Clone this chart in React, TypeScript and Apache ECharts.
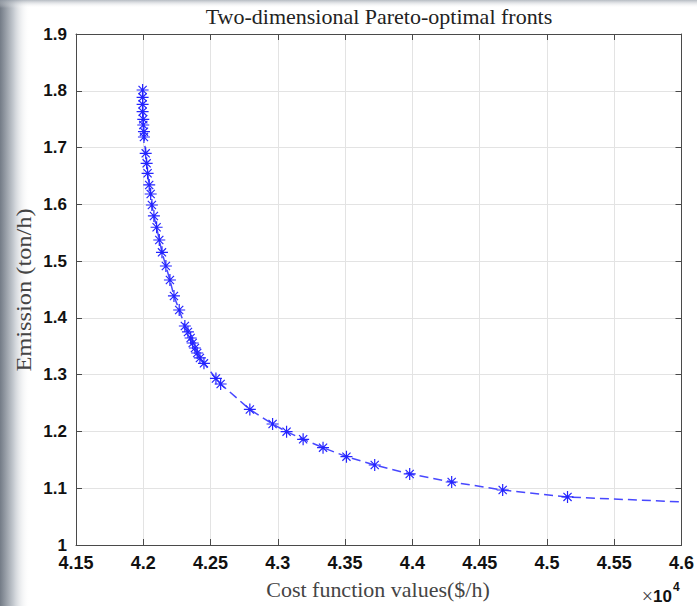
import React, { useEffect, useRef } from "react";
import * as echarts from "echarts";

// Cost ($/h) of each Pareto-optimal solution
const costValues = [
  41995, 41995, 41995, 41995, 42000, 42000, 42005, 42005,
  42018, 42025, 42032, 42044, 42055, 42064, 42079, 42099, 42119, 42139,
  42168, 42198, 42228, 42267, 42309, 42332, 42352, 42367, 42384, 42401,
  42421, 42451, 42540, 42575, 42792, 42961, 43065, 43188, 43336, 43510,
  43720, 43980, 44292, 44671, 45153, 46000,
];
// Emission (ton/h) of each solution
const emissionValues = [
  1.8014, 1.7885, 1.7762, 1.7632, 1.7498, 1.7397, 1.7279, 1.7186,
  1.6899, 1.6723, 1.6547, 1.6341, 1.6182, 1.5988, 1.5795, 1.5596, 1.5372, 1.5155,
  1.4914, 1.4667, 1.4386, 1.4139, 1.3857, 1.3752, 1.3646, 1.3558, 1.347, 1.3382,
  1.3294, 1.32, 1.2933, 1.2836, 1.2387, 1.2131, 1.1996, 1.1862, 1.1714, 1.1556,
  1.1409, 1.1251, 1.111, 1.0969, 1.0846, 1.0758,
];
// the last point only continues the dashed line to the axis edge (no marker)
const markerless = [false, false, false, false, false, false, false, false,
  false, false, false, false, false, false, false, false, false, false,
  false, false, false, false, false, false, false, false, false, false,
  false, false, false, false, false, false, false, false, false, false,
  false, false, false, false, false, true];

const xTicks = { min: 41500, max: 46000, interval: 500 };
const yTicks = { min: 1.0, max: 1.9, interval: 0.1 };

const titleText = "Two-dimensional Pareto-optimal fronts";
const xName = "Cost function values($/h)";
const yName = "Emission (ton/h)";
const xExponent = "4";

const W = 697;
const H = 606;
const G = { left: 76, right: 15, top: 34, bottom: 61 };

const ASTERISK =
  "path://M0 5 L10 5 M5 0 L5 10 M1.6 1.6 L8.4 8.4 M1.6 8.4 L8.4 1.6";

const SERIF = "Liberation Serif, Times New Roman, serif";
const SANS = "Liberation Sans, Arial, Helvetica, sans-serif";

export default function App() {
  const ref = useRef<HTMLDivElement>(null);

  useEffect(() => {
    if (!ref.current) return;
    const chart = echarts.init(ref.current, null, { renderer: "svg" });
    const data = costValues.map((c, i) =>
      markerless[i]
        ? { value: [c, emissionValues[i]], symbol: "none" }
        : { value: [c, emissionValues[i]] }
    );
    const labelBase = {
      fontFamily: SANS,
      fontWeight: "bold" as const,
      color: "#111",
    };
    const axisLine = { show: true, lineStyle: { color: "#4a4a4a", width: 1 } };
    const tick = { show: true, inside: true, length: 6, lineStyle: { color: "#4a4a4a" } };
    const plotCx = G.left + (W - G.left - G.right) / 2;

    chart.setOption({
      animation: false,
      backgroundColor: "#ffffff",
      grid: { left: G.left, right: G.right, top: G.top, bottom: G.bottom, containLabel: false },
      xAxis: [
        {
          type: "value",
          ...xTicks,
          position: "bottom",
          axisLine,
          axisTick: tick,
          axisLabel: {
            ...labelBase,
            fontSize: 18,
            lineHeight: 14,
            margin: 11,
            formatter: (v: number) => String(+(v / 10000).toFixed(2)),
          },
          splitLine: { show: true, lineStyle: { color: "#e3e3e3", width: 1 } },
        },
        {
          type: "value",
          ...xTicks,
          position: "top",
          axisLine,
          axisTick: tick,
          axisLabel: { show: false },
          splitLine: { show: false },
        },
      ],
      yAxis: [
        {
          type: "value",
          ...yTicks,
          position: "left",
          axisLine,
          axisTick: tick,
          axisLabel: {
            ...labelBase,
            fontSize: 17,
            lineHeight: 14,
            margin: 9,
            formatter: (v: number) => String(+v.toFixed(1)),
          },
          splitLine: { show: true, lineStyle: { color: "#e3e3e3", width: 1 } },
        },
        {
          type: "value",
          ...yTicks,
          position: "right",
          axisLine,
          axisTick: tick,
          axisLabel: { show: false },
          splitLine: { show: false },
        },
      ],
      series: [
        {
          type: "line",
          xAxisIndex: 0,
          yAxisIndex: 0,
          data,
          symbol: ASTERISK,
          symbolSize: 12,
          showAllSymbol: true,
          itemStyle: { color: "rgba(0,0,0,0)", borderColor: "#2424ff", borderWidth: 1.2 },
          lineStyle: { color: "#4848ff", width: 1.5, type: [9, 5] },
          clip: true,
        },
      ],
      graphic: [
        {
          type: "rect",
          left: 0,
          top: 0,
          shape: { width: 30, height: H },
          style: {
            fill: new echarts.graphic.LinearGradient(0, 0, 1, 0, [
              { offset: 0, color: "#737b86" },
              { offset: 0.45, color: "#c5cad0" },
              { offset: 1, color: "rgba(255,255,255,0)" },
            ]),
          },
          silent: true,
          z: -10,
        },
        {
          type: "rect",
          left: 0,
          top: 0,
          shape: { width: W, height: 8 },
          style: {
            fill: new echarts.graphic.LinearGradient(0, 0, 0, 1, [
              { offset: 0, color: "rgba(150,158,168,0.7)" },
              { offset: 1, color: "rgba(255,255,255,0)" },
            ]),
          },
          silent: true,
          z: -10,
        },
        {
          type: "text",
          x: plotCx,
          y: 17,
          scaleX: 1.1,
          style: {
            text: titleText,
            fontFamily: SERIF,
            fontSize: 20,
            fill: "#222",
            align: "center",
            verticalAlign: "middle",
          },
        },
        {
          type: "text",
          x: 378,
          y: 590,
          scaleX: 1.1,
          style: {
            text: xName,
            fontFamily: SERIF,
            fontSize: 20,
            fill: "#444",
            align: "center",
            verticalAlign: "middle",
          },
        },
        {
          type: "text",
          x: 24,
          y: 290,
          rotation: Math.PI / 2,
          scaleX: 1.22,
          style: {
            text: yName,
            fontFamily: SERIF,
            fontSize: 20,
            fill: "#444",
            align: "center",
            verticalAlign: "middle",
          },
        },
        {
          type: "text",
          x: 653,
          y: 596,
          style: {
            text: "×",
            fontFamily: SERIF,
            fontSize: 20,
            fill: "#444",
            align: "right",
            verticalAlign: "middle",
          },
        },
        {
          type: "text",
          x: 672,
          y: 596,
          style: {
            text: "10",
            fontFamily: SANS,
            fontWeight: "bold",
            fontSize: 17,
            fill: "#111",
            align: "right",
            verticalAlign: "middle",
          },
        },
        {
          type: "text",
          x: 673,
          y: 587,
          style: {
            text: xExponent,
            fontFamily: SANS,
            fontWeight: "bold",
            fontSize: 12,
            fill: "#111",
            align: "left",
            verticalAlign: "middle",
          },
        },
      ],
    });
    return () => chart.dispose();
  }, []);

  return (
    <div
      ref={ref}
      style={{ position: "fixed", left: 0, top: 0, width: W, height: H }}
    />
  );
}
